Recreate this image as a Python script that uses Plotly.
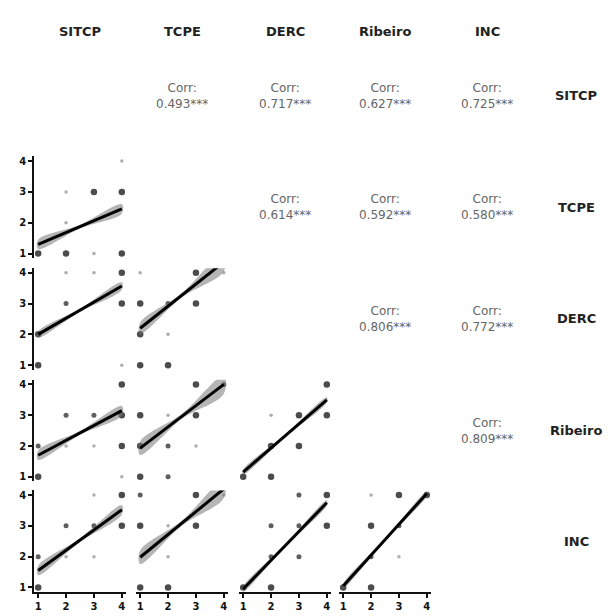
import plotly.graph_objects as go

# ---------------- data ----------------
variables = ["SITCP", "TCPE", "DERC", "Ribeiro", "INC"]
tick_vals = [1, 2, 3, 4]
tick_text = ["1", "2", "3", "4"]

# upper triangle correlations
corr_row = ["SITCP", "SITCP", "SITCP", "SITCP", "TCPE", "TCPE", "TCPE", "DERC", "DERC", "Ribeiro"]
corr_col = ["TCPE", "DERC", "Ribeiro", "INC", "DERC", "Ribeiro", "INC", "Ribeiro", "INC", "INC"]
corr_text = ["0.493***", "0.717***", "0.627***", "0.725***", "0.614***",
             "0.592***", "0.580***", "0.806***", "0.772***", "0.809***"]

# lower-triangle scatter points: (y variable, x variable) -> x, y, weight (1 light, 2 medium, 3 heavy)
tcpe_sitcp_x = [4, 2, 3, 4, 2, 1, 2, 3, 4]
tcpe_sitcp_y = [4, 3, 3, 3, 2, 1, 1, 1, 1]
tcpe_sitcp_n = [1, 1, 3, 3, 1, 3, 3, 1, 3]

derc_sitcp_x = [2, 3, 4, 2, 4, 1, 1, 4]
derc_sitcp_y = [4, 4, 4, 3, 3, 2, 1, 1]
derc_sitcp_n = [1, 1, 3, 2, 3, 3, 3, 1]

ribeiro_sitcp_x = [4, 2, 3, 4, 1, 2, 3, 4, 1, 4]
ribeiro_sitcp_y = [4, 3, 3, 3, 2, 2, 2, 2, 1, 1]
ribeiro_sitcp_n = [3, 2, 2, 3, 2, 1, 1, 3, 3, 1]

inc_sitcp_x = [3, 4, 2, 3, 4, 1, 2, 3, 1]
inc_sitcp_y = [4, 4, 3, 3, 3, 2, 2, 2, 1]
inc_sitcp_n = [1, 3, 2, 2, 3, 2, 1, 1, 3]

derc_tcpe_x = [1, 3, 4, 1, 2, 3, 1, 2, 1, 2]
derc_tcpe_y = [4, 4, 4, 3, 3, 3, 2, 2, 1, 1]
derc_tcpe_n = [1, 3, 1, 3, 2, 3, 3, 1, 3, 3]

ribeiro_tcpe_x = [3, 4, 1, 2, 3, 1, 2, 3, 1, 2]
ribeiro_tcpe_y = [4, 4, 3, 3, 3, 2, 2, 2, 1, 1]
ribeiro_tcpe_n = [3, 2, 3, 1, 3, 3, 2, 1, 3, 2]

inc_tcpe_x = [1, 3, 4, 1, 2, 3, 2, 1, 2]
inc_tcpe_y = [4, 4, 4, 3, 3, 3, 2, 1, 1]
inc_tcpe_n = [2, 3, 1, 3, 1, 3, 1, 3, 3]

ribeiro_derc_x = [4, 2, 3, 4, 2, 3, 1, 2]
ribeiro_derc_y = [4, 3, 3, 3, 2, 2, 1, 1]
ribeiro_derc_n = [3, 1, 3, 3, 3, 3, 3, 3]

inc_derc_x = [3, 4, 2, 3, 4, 2, 3, 1, 2]
inc_derc_y = [4, 4, 3, 3, 3, 2, 2, 1, 1]
inc_derc_n = [2, 3, 2, 2, 3, 2, 2, 3, 3]

inc_ribeiro_x = [2, 3, 4, 2, 3, 2, 3, 1, 2]
inc_ribeiro_y = [4, 4, 4, 3, 3, 2, 2, 1, 1]
inc_ribeiro_n = [1, 3, 3, 3, 2, 2, 1, 3, 3]

# linear fits: fitted y at x=1 and x=4, and CI half-widths at x=1, 2.5, 4
fit_panels = [("TCPE", "SITCP"), ("DERC", "SITCP"), ("Ribeiro", "SITCP"), ("INC", "SITCP"),
              ("DERC", "TCPE"), ("Ribeiro", "TCPE"), ("INC", "TCPE"),
              ("Ribeiro", "DERC"), ("INC", "DERC"), ("INC", "Ribeiro")]
fit_y1 = [1.30, 2.00, 1.70, 1.55, 2.20, 1.93, 1.98, 1.15, 0.95, 1.05]
fit_y4 = [2.45, 3.57, 3.15, 3.52, 4.35, 4.00, 4.20, 3.50, 3.75, 4.05]
ci_lo_end = [0.15, 0.10, 0.15, 0.15, 0.18, 0.22, 0.22, 0.08, 0.08, 0.07]
ci_mid = [0.06, 0.05, 0.06, 0.06, 0.07, 0.08, 0.08, 0.04, 0.04, 0.03]
ci_hi_end = [0.15, 0.12, 0.15, 0.15, 0.30, 0.30, 0.30, 0.08, 0.08, 0.07]

points = {
    ("TCPE", "SITCP"): (tcpe_sitcp_x, tcpe_sitcp_y, tcpe_sitcp_n),
    ("DERC", "SITCP"): (derc_sitcp_x, derc_sitcp_y, derc_sitcp_n),
    ("Ribeiro", "SITCP"): (ribeiro_sitcp_x, ribeiro_sitcp_y, ribeiro_sitcp_n),
    ("INC", "SITCP"): (inc_sitcp_x, inc_sitcp_y, inc_sitcp_n),
    ("DERC", "TCPE"): (derc_tcpe_x, derc_tcpe_y, derc_tcpe_n),
    ("Ribeiro", "TCPE"): (ribeiro_tcpe_x, ribeiro_tcpe_y, ribeiro_tcpe_n),
    ("INC", "TCPE"): (inc_tcpe_x, inc_tcpe_y, inc_tcpe_n),
    ("Ribeiro", "DERC"): (ribeiro_derc_x, ribeiro_derc_y, ribeiro_derc_n),
    ("INC", "DERC"): (inc_derc_x, inc_derc_y, inc_derc_n),
    ("INC", "Ribeiro"): (inc_ribeiro_x, inc_ribeiro_y, inc_ribeiro_n),
}

# ---------------- layout geometry ----------------
W, H = 610, 616
col_left = [34, 136, 239, 339, 441]
panel_w = 92
row_top = [44, 156, 268, 380, 491]
panel_h = 102
rng = [0.85, 4.15]

size_map = {1: 3.5, 2: 5.0, 3: 6.5}
color_map = {1: "#8c8c8c", 2: "#1a1a1a", 3: "#000000"}

FONT = "DejaVu Sans"

def xdom(c):
    return [col_left[c] / W, (col_left[c] + panel_w) / W]

def ydom(r):
    return [1 - (row_top[r] + panel_h) / H, 1 - row_top[r] / H]

fig = go.Figure()
layout = dict(
    width=W, height=H,
    margin=dict(l=0, r=0, t=0, b=0),
    paper_bgcolor="white", plot_bgcolor="white",
    showlegend=False,
)

k = 0
for fi, (rv, cv) in enumerate(fit_panels):
    r = variables.index(rv)
    c = variables.index(cv)
    k += 1
    xa = "x" if k == 1 else f"x{k}"
    ya = "y" if k == 1 else f"y{k}"
    xkey = "xaxis" if k == 1 else f"xaxis{k}"
    ykey = "yaxis" if k == 1 else f"yaxis{k}"
    bottom = (r == len(variables) - 1)
    left = (c == 0)
    layout[xkey] = dict(
        domain=xdom(c), anchor=ya, range=rng, showgrid=False, zeroline=False,
        showline=bottom, linecolor="#111", linewidth=1.8,
        ticks="outside" if bottom else "", ticklen=4, tickwidth=1.5, tickcolor="#111",
        tickvals=tick_vals, ticktext=tick_text, showticklabels=bottom,
        tickfont=dict(family=FONT, size=10, color="#111", weight="bold"),
    )
    layout[ykey] = dict(
        domain=ydom(r), anchor=xa, range=rng, showgrid=False, zeroline=False,
        showline=left, linecolor="#111", linewidth=1.8,
        ticks="outside" if left else "", ticklen=4, tickwidth=1.5, tickcolor="#111",
        tickvals=tick_vals, ticktext=tick_text, showticklabels=left,
        tickfont=dict(family=FONT, size=10, color="#111", weight="bold"),
    )
    # points
    px, py, pn = points[(rv, cv)]
    fig.add_trace(go.Scatter(
        x=px, y=py, mode="markers", xaxis=xa, yaxis=ya, cliponaxis=False,
        marker=dict(size=[size_map[n] for n in pn], color=[color_map[n] for n in pn], line=dict(width=0)),
        hoverinfo="skip",
    ))
    # confidence band
    y1, y4 = fit_y1[fi], fit_y4[fi]
    ym = (y1 + y4) / 2
    bx = [1, 2.5, 4, 4, 2.5, 1, 1]
    by = [y1 + ci_lo_end[fi], ym + ci_mid[fi], y4 + ci_hi_end[fi],
          y4 - ci_hi_end[fi], ym - ci_mid[fi], y1 - ci_lo_end[fi], y1 + ci_lo_end[fi]]
    fig.add_trace(go.Scatter(
        x=bx, y=by, mode="lines", fill="toself", xaxis=xa, yaxis=ya,
        fillcolor="rgba(120,120,120,0.55)", line=dict(width=0, shape="spline"),
        hoverinfo="skip",
    ))
    # fitted line
    fig.add_trace(go.Scatter(
        x=[1, 4], y=[y1, y4], mode="lines", xaxis=xa, yaxis=ya,
        line=dict(color="black", width=3), hoverinfo="skip",
    ))

annotations = []
# column headers
for c, v in enumerate(variables):
    cx = (col_left[c] + panel_w / 2) / W
    annotations.append(dict(
        x=cx, y=1 - 31 / H, xref="paper", yref="paper", text=v, showarrow=False,
        font=dict(family=FONT, size=13, color="#222", weight="bold"),
        xanchor="center", yanchor="middle",
    ))
# row labels on right
for r, v in enumerate(variables):
    cy = 1 - (row_top[r] + panel_h / 2) / H
    annotations.append(dict(
        x=576 / W, y=cy, xref="paper", yref="paper", text=v, showarrow=False,
        font=dict(family=FONT, size=13, color="#222", weight="bold"),
        xanchor="center", yanchor="middle",
    ))
# correlation texts
for rv, cv, t in zip(corr_row, corr_col, corr_text):
    r = variables.index(rv)
    c = variables.index(cv)
    cx = (col_left[c] + panel_w / 2) / W
    cy = 1 - (row_top[r] + panel_h / 2) / H
    annotations.append(dict(
        x=cx, y=cy, xref="paper", yref="paper", text="Corr:<br>" + t, showarrow=False,
        font=dict(family=FONT, size=12, color="#666"),
        xanchor="center", yanchor="middle", align="center",
    ))

layout["annotations"] = annotations
fig.update_layout(**layout)
fig.write_html(
    "out.html",
    config={"displayModeBar": False},
    post_script="document.body.style.margin='0';document.body.style.overflow='hidden';",
)
